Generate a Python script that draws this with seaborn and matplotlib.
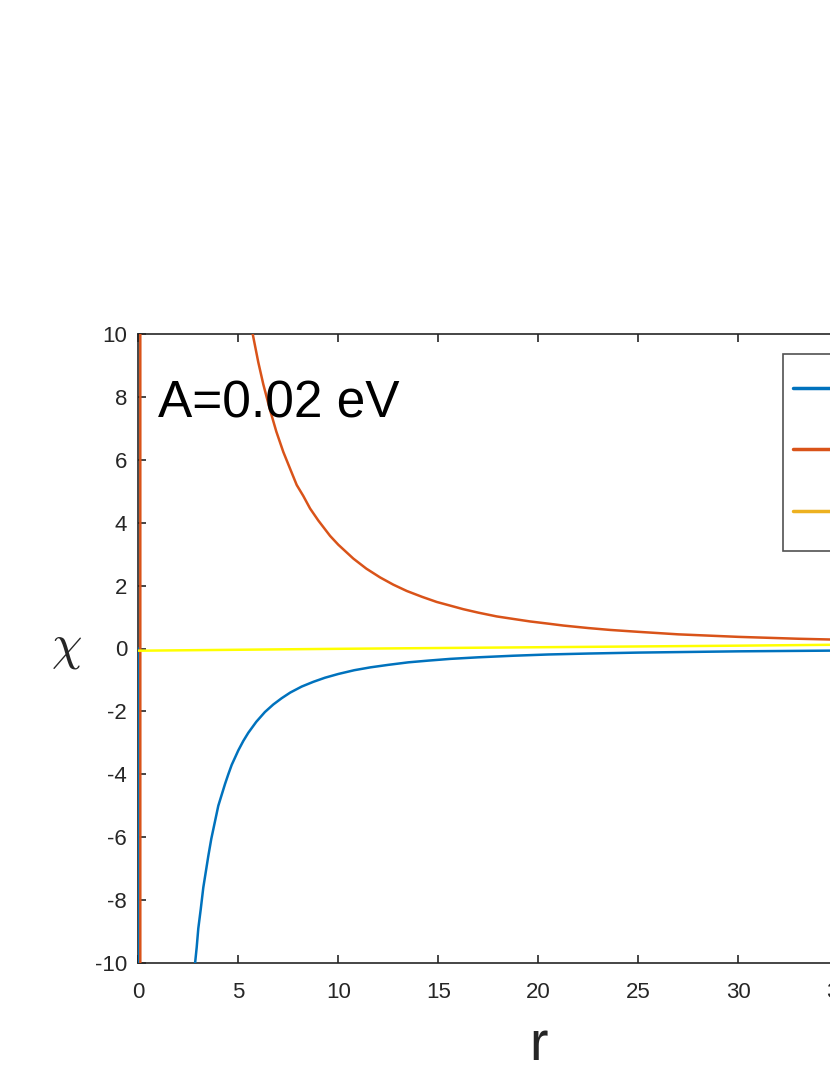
import numpy as np
import pandas as pd
import matplotlib
matplotlib.use("Agg")
import matplotlib.pyplot as plt
import seaborn as sns

# valores (r, chi)
r_azul = [0, 0.02, 1.0, 2.0, 2.84, 2.92, 3.0, 3.12, 3.25, 3.4, 3.5, 3.65, 3.75, 3.9, 4.0, 4.17,
          4.34, 4.5, 4.67, 4.85, 5.0, 5.25, 5.5, 5.9, 6.33, 6.75, 7.17, 7.6, 8.17, 8.75, 9.33,
          10.0, 10.8, 11.6, 12.5, 13.5, 14.5, 15.6, 17, 18.75, 20.5, 22.5, 25, 27.5, 30, 35, 40]
chi_azul = [0, -8000, -80, -20, -10.0, -9.5, -8.9, -8.3, -7.6, -7.0, -6.6, -6.05, -5.75, -5.3,
            -5.0, -4.65, -4.3, -4.0, -3.7, -3.45, -3.24, -2.94, -2.68, -2.33, -2.02, -1.78,
            -1.58, -1.4, -1.21, -1.06, -0.93, -0.81, -0.69, -0.6, -0.52, -0.44, -0.385, -0.33,
            -0.28, -0.23, -0.19, -0.16, -0.13, -0.11, -0.09, -0.066, -0.05]

r_naranja = [0.1, 0.1, 1, 3, 5.72, 6.0, 6.25, 6.58, 6.9, 7.25, 7.6, 7.92, 8.25, 8.59, 9.0, 9.59,
             10.0, 10.75, 11.4, 12.09, 12.75, 13.42, 14.2, 14.92, 15.5, 16.25, 17.0, 17.92,
             18.75, 19.59, 20.5, 21.25, 22.5, 23.6, 25, 27, 30, 33, 35, 40]
chi_naranja = [-8000, 8000, 330, 37, 10.0, 9.1, 8.4, 7.6, 6.9, 6.25, 5.7, 5.2, 4.85, 4.45,
               4.07, 3.58, 3.3, 2.86, 2.54, 2.26, 2.03, 1.83, 1.64, 1.48, 1.38, 1.25, 1.14,
               1.02, 0.94, 0.86, 0.79, 0.73, 0.65, 0.59, 0.53, 0.45, 0.37, 0.31, 0.28, 0.21]

r_amarillo = [0, 10, 20, 30, 40]
chi_amarillo = [-0.07, -0.01, 0.04, 0.09, 0.15]

# las etiquetas de la leyenda quedan fuera del recorte de la imagen
etiquetas = [r'$\chi_1$', r'$\chi_2$', r'$\chi_1+\chi_2$']
colores = ['#0072BD', '#D95319', '#FFFF00']
x_ticks = [0, 5, 10, 15, 20, 25, 30, 35, 40]
y_ticks = [-10, -8, -6, -4, -2, 0, 2, 4, 6, 8, 10]

df = pd.concat([
    pd.DataFrame({'r': r_azul, 'chi': chi_azul, 'serie': etiquetas[0]}),
    pd.DataFrame({'r': r_naranja, 'chi': chi_naranja, 'serie': etiquetas[1]}),
    pd.DataFrame({'r': r_amarillo, 'chi': chi_amarillo, 'serie': etiquetas[2]}),
], ignore_index=True)

sns.set_style('ticks')
plt.rcParams['font.family'] = ['Liberation Sans', 'DejaVu Sans']
plt.rcParams['mathtext.fontset'] = 'cm'
plt.rcParams['axes.unicode_minus'] = False

fig = plt.figure(figsize=(8.3, 10.75), dpi=100)
# los ejes se salen por la derecha (la imagen original está recortada)
ax = fig.add_axes([138.3 / 830, 112 / 1075, 800 / 830, 629 / 1075])

sns.lineplot(data=df, x='r', y='chi', hue='serie', palette=dict(zip(etiquetas, colores)),
             estimator=None, sort=False, linewidth=1.8, ax=ax, legend=True)
for l in ax.get_lines():
    l.set_zorder(3)

ax.set_xlim(0, 40)
ax.set_ylim(-10, 10)
ax.set_xticks(x_ticks)
ax.set_yticks(y_ticks)
for s in ax.spines.values():
    s.set_color('#262626')
    s.set_linewidth(1.2)
ax.tick_params(direction='in', length=6, width=1.2, color='#262626', labelcolor='#262626',
               labelsize=16, top=True, right=True)
ax.tick_params(axis='x', pad=14)
ax.tick_params(axis='y', pad=8)

ax.set_xlabel('r', fontsize=40, labelpad=12)
ax.set_ylabel(r'$\chi$', fontsize=35, rotation=0, ha='center', va='center')
ax.yaxis.set_label_coords((66 - 138.3) / 800, 0.5)

ax.text(158 / 830, 1 - 417 / 1075, 'A=0.02 eV', transform=fig.transFigure, fontsize=37,
        ha='left', va='baseline', color='black')

leg = ax.legend(loc='upper left', bbox_to_anchor=(783 / 830, 1 - 354 / 1075),
                bbox_transform=fig.transFigure, borderaxespad=0, fontsize=20,
                labelspacing=1.24, borderpad=0.85, handlelength=3.0, handletextpad=0.8,
                fancybox=False, frameon=True, title=None)
leg.get_frame().set_edgecolor('#262626')
leg.get_frame().set_linewidth(1.2)
lineas = leg.get_lines()
lineas[2].set_color('#EDB120')
for l in lineas:
    l.set_linewidth(2.5)
    # acercar la muestra de línea al borde izquierdo del recuadro
    l.set_xdata(np.asarray(l.get_xdata()) - 10)

fig.savefig('out.png', dpi=100)
